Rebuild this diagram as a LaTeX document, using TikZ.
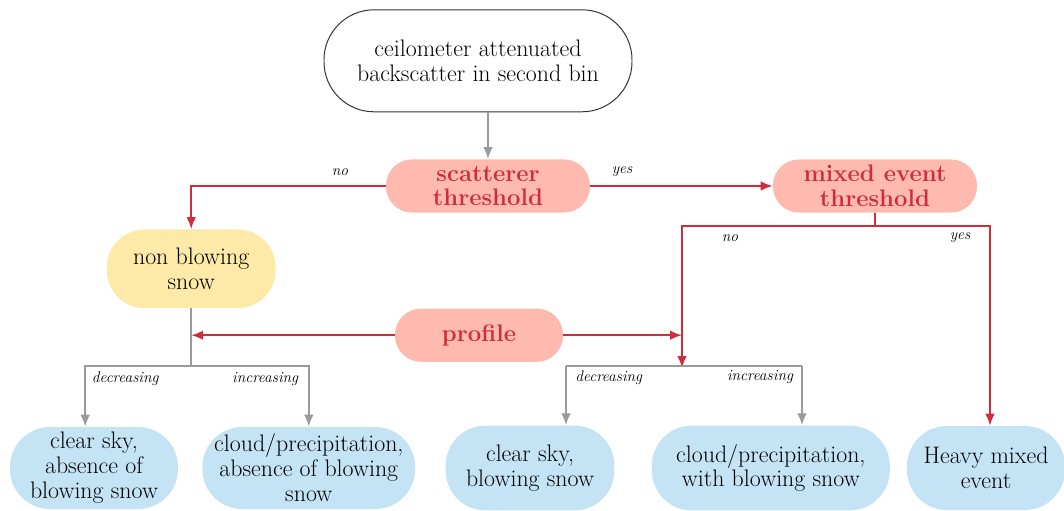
\documentclass[tikz,border=0pt]{standalone}
\usetikzlibrary{arrows.meta}

\definecolor{flowred}{HTML}{CF2D3C}
\definecolor{flowsalmon}{HTML}{FFBAB0}
\definecolor{flowyellow}{HTML}{FEEAA8}
\definecolor{flowblue}{HTML}{C4E4F6}
\definecolor{flowgray}{HTML}{9A9A9A}

\begin{document}
\begin{tikzpicture}[
  box/.style={rectangle, align=center, inner sep=0pt, font=\fontsize{17}{17.7}\selectfont},
  source/.style={box, draw=black!80, line width=0.7pt, fill=white, rounded corners=1.25cm, minimum width=7.7cm, minimum height=2.55cm},
  test/.style={box, fill=flowsalmon, text=flowred, font=\fontsize{17}{17.7}\selectfont\bfseries, rounded corners=0.65cm, minimum width=5.1cm, minimum height=1.33cm},
  result/.style={box, fill=flowblue, rounded corners=1cm, minimum height=2.05cm},
  redarrow/.style={flowred, line width=1.4pt, -{Latex[length=3mm,width=2.4mm]}},
  grayarrow/.style={flowgray, line width=1.4pt, -{Latex[length=3mm,width=2.4mm]}},
  tag/.style={font=\fontsize{11}{13}\selectfont\itshape, inner sep=0pt}
]
\useasboundingbox (0,0) rectangle (26.6,-12.75);

% nodes
\node[source] (bin) at (11.95,-1.52) {ceilometer attenuated\\backscatter in second bin};
\node[test] (scat) at (12.2,-4.65) {scatterer\\threshold};
\node[test] (mixed) at (21.875,-4.65) {mixed event\\threshold};
\node[box, fill=flowyellow, rounded corners=0.95cm, minimum width=4.22cm, minimum height=1.97cm] (nonbs) at (4.78,-6.72) {non blowing\\snow};
\node[test, minimum width=4.2cm] (prof) at (11.975,-8.38) {profile};
\node[result, minimum width=4.2cm] (clearA) at (2.35,-11.7) {clear sky,\\absence of\\blowing snow};
\node[result, minimum width=5.32cm] (cloudA) at (7.72,-11.7) {cloud/precipitation,\\absence of blowing\\snow};
\node[result, minimum width=4.22cm, minimum height=2.12cm] (clearB) at (13.25,-11.7) {clear sky,\\blowing snow};
\node[result, minimum width=5.95cm, minimum height=2.12cm] (cloudB) at (19.27,-11.7) {cloud/precipitation,\\with blowing snow};
\node[result, minimum width=3.95cm, minimum height=2.1cm] (heavy) at (24.65,-11.7) {Heavy mixed\\event};

% junctions
\coordinate (jleft) at (4.78,-9.15);
\coordinate (jright) at (17.05,-9.15);
\coordinate (split) at (21.875,-5.65);
\coordinate (dleft) at (14.15,-9.15);
\coordinate (dright) at (20.05,-9.15);

% red decisions
\draw[grayarrow] (scat.north |- bin.south) -- (scat.north);
\draw[redarrow] (scat.west) -| (nonbs.north);
\draw[redarrow] (scat.east) -- (mixed.west);
\draw[flowred, line width=1.4pt] (mixed.south) -- (split);
\draw[redarrow] (split) -| ([yshift=-0.05cm]jright);
\draw[redarrow] (split) -| (heavy.north -| 24.75,0);
\draw[redarrow] (prof.west) -- (prof.west -| jleft);
\draw[redarrow] (prof.east) -- (prof.east -| jright);

% gray forks
\draw[flowgray, line width=1.4pt] (nonbs.south) -- (jleft);
\draw[grayarrow] (jleft) -| ([xshift=-0.22cm]clearA.north);
\draw[grayarrow] (jleft) -| (cloudA.north);
\draw[flowgray, line width=1.4pt] (dleft) -- (dright);
\draw[grayarrow] (dleft) -- (dleft |- clearB.north);
\draw[grayarrow] (dright) -- (dright |- cloudB.north);

% labels
\node[tag] (noA) at (8.5,-4.3) {no};
\node[tag] (yesA) at (15.55,-4.3) {yes};
\node[tag] (noB) at (18.25,-5.95) {no};
\node[tag] (yesB) at (24.0,-5.95) {yes};
\node[tag] (decA) at (3.13,-9.47) {decreasing};
\node[tag] (incA) at (6.63,-9.47) {increasing};
\node[tag] (decB) at (15.22,-9.45) {decreasing};
\node[tag] (incB) at (19.0,-9.42) {increasing};
\end{tikzpicture}
\end{document}
